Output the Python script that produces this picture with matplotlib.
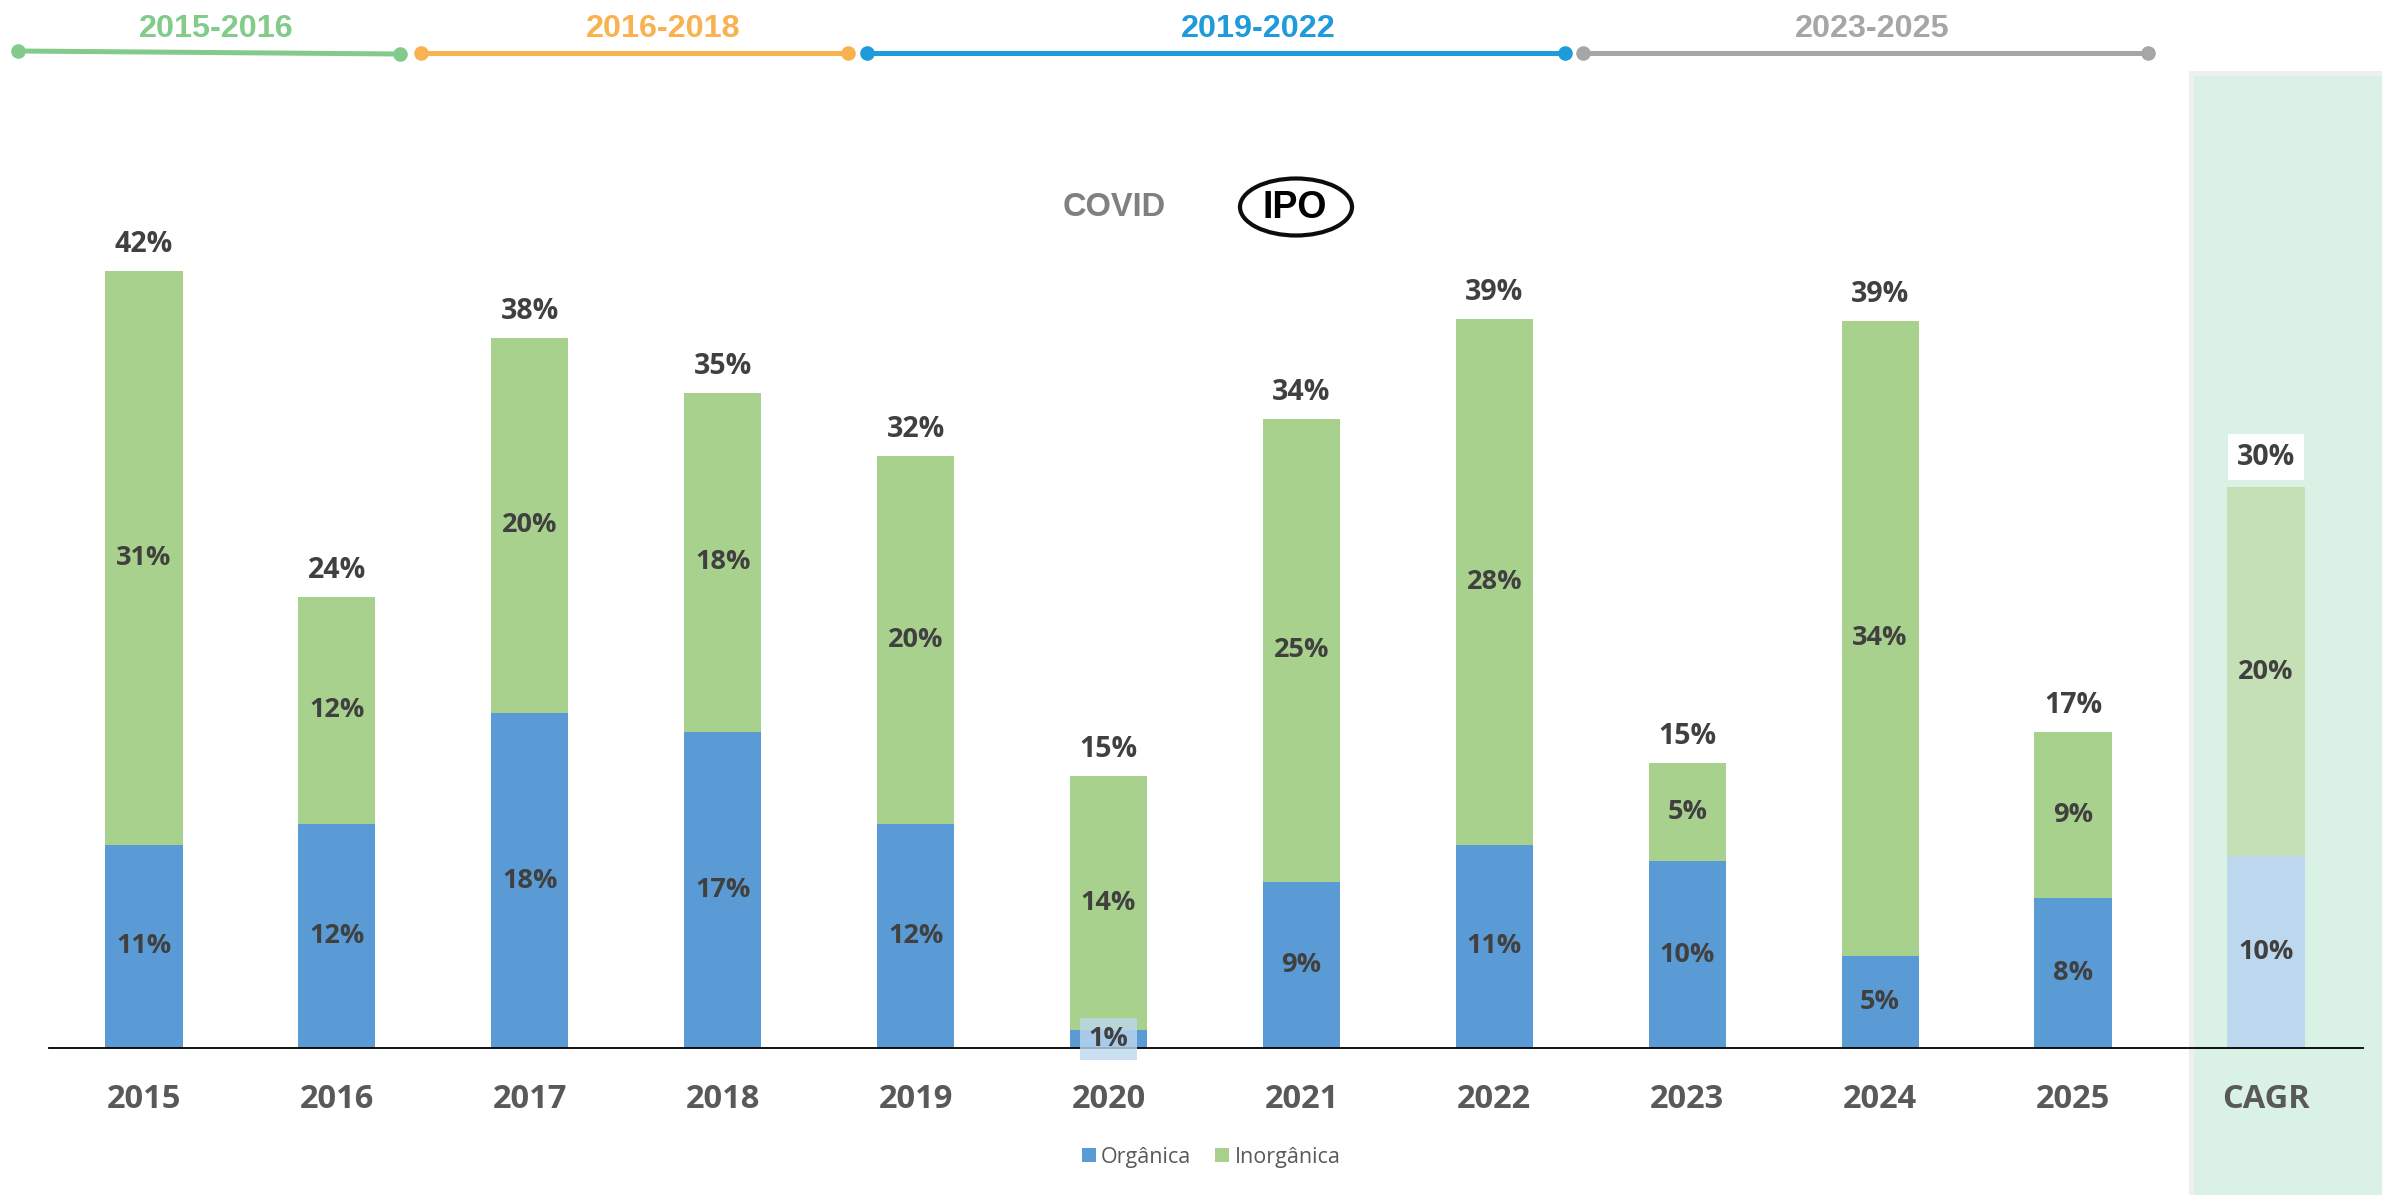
import matplotlib
matplotlib.use("Agg")
import matplotlib.pyplot as plt
from matplotlib.patches import Rectangle, Ellipse
from matplotlib.lines import Line2D

# ---------------- data ----------------
categories = ['2015', '2016', '2017', '2018', '2019', '2020', '2021', '2022',
              '2023', '2024', '2025', 'CAGR']
organic = [11.0, 12.1, 18.1, 17.1, 12.1, 1.0, 9.0, 11.0, 10.1, 5.0, 8.1, 10.4]
inorganic = [31.0, 12.3, 20.3, 18.3, 19.9, 13.7, 25.0, 28.4, 5.3, 34.3, 9.0, 19.9]
series_names = ['Orgânica', 'Inorgânica']
period_labels = ['2015-2016', '2016-2018', '2019-2022', '2023-2025']
event_labels = ['COVID', 'IPO']

# ---------------- style ----------------
W, H = 2382, 1195
BLUE, GREEN = '#5B9BD5', '#A9D18E'
BLUE_L, GREEN_L = '#BDD7EE', '#C5E0B4'
LBL = '#404040'
TICK = '#595959'
FONT = 'Open Sans'

fig = plt.figure(figsize=(W / 100, H / 100), dpi=100)
fig.patch.set_facecolor('white')


def fx(x):
    return x / W


def fy(y):
    return 1 - y / H


# CAGR panel background
panel = Rectangle((fx(2190.5), -0.01), fx(W - 2190.5 + 10), fy(72.5) + 0.01,
                  transform=fig.transFigure, facecolor='#DAF2E6',
                  edgecolor='#EFEFEF', linewidth=3.6, zorder=-5)
fig.patches.append(panel)

ax = fig.add_axes([fx(49), fy(1048), fx(2363 - 49), 925 / H])
ax.set_facecolor('none')
ax.set_xlim(-0.4925, 11.503)
ax.set_ylim(0, 50)

n = len(categories)
x = list(range(n))
org_colors = [BLUE] * (n - 1) + [BLUE_L]
ino_colors = [GREEN] * (n - 1) + [GREEN_L]

b1 = ax.bar(x, organic, width=0.4, color=org_colors, label=series_names[0], zorder=2)
b2 = ax.bar(x, inorganic, width=0.4, bottom=organic, color=ino_colors,
            label=series_names[1], zorder=2)

for s in ['top', 'right', 'left']:
    ax.spines[s].set_visible(False)
ax.spines['bottom'].set_linewidth(1.3)
ax.spines['bottom'].set_color('black')
ax.spines['bottom'].set_zorder(3)
ax.set_yticks([])
ax.set_xticks(x)
ax.set_xticklabels(categories)
ax.tick_params(axis='x', length=0, pad=25)
for t in ax.get_xticklabels():
    t.set_color(TICK)
    t.set_fontweight('bold')
    t.set_fontfamily(FONT)
    t.set_fontsize(23.5)

# value labels
IN_FS = 19.5
TOT_FS = 20.5
for i in x:
    o, g = organic[i], inorganic[i]
    tot = o + g
    is_cagr = categories[i] == 'CAGR'
    # organic label
    if o < 3:
        ax.text(i, o / 2, f"{round(o)}%", ha='center', va='center', fontsize=IN_FS,
                fontweight='bold', family=FONT, color=LBL, zorder=5,
                bbox=dict(boxstyle='square,pad=0.3', fc=BLUE_L, ec='none', alpha=0.8))
    else:
        ax.text(i, o / 2, f"{round(o)}%", ha='center', va='center', fontsize=IN_FS,
                fontweight='bold', family=FONT, color=LBL, zorder=5)
    ax.text(i, o + g / 2, f"{round(g)}%", ha='center', va='center', fontsize=IN_FS,
            fontweight='bold', family=FONT, color=LBL, zorder=5)
    if is_cagr:
        ax.annotate(f"{round(tot)}%", xy=(i, tot), xytext=(0, 30),
                    textcoords='offset pixels', ha='center', va='center',
                    fontsize=TOT_FS, fontweight='bold', family=FONT, color=LBL,
                    bbox=dict(boxstyle='square,pad=0.3', fc='white', ec='none'))
    else:
        ax.annotate(f"{round(tot)}%", xy=(i, tot), xytext=(0, 19),
                    textcoords='offset pixels', ha='center', va='baseline',
                    fontsize=TOT_FS, fontweight='bold', family=FONT, color=LBL)

# legend
leg = fig.legend(handles=[b1, b2], labels=series_names, loc='center',
                 bbox_to_anchor=(fx(1211), fy(1157)), ncol=2, frameon=False,
                 prop={'family': FONT, 'size': 15.5},
                 handlelength=0.65, handleheight=0.65, handletextpad=0.25,
                 columnspacing=1.1)
for t in leg.get_texts():
    t.set_color(TICK)

# timeline
seg_colors = ['#82CB8B', '#F9B250', '#1F9ADB', '#A6A6A6']
seg_x = [(18, 400), (421, 848), (867, 1565), (1583, 2148)]
seg_y = [(51, 54), (53, 53), (53, 53), (53, 53)]
lab_x = [216, 663, 1258, 1872]
for lab, col, (x0, x1), (y0, y1), lx in zip(period_labels, seg_colors, seg_x, seg_y, lab_x):
    fig.add_artist(Line2D([fx(x0), fx(x1)], [fy(y0), fy(y1)], transform=fig.transFigure,
                          color=col, linewidth=3.6, marker='o', markersize=10.5,
                          markeredgewidth=0, solid_capstyle='butt'))
    fig.text(fx(lx), fy(29), lab, ha='center', va='center', color=col,
             fontsize=23.3, fontweight='bold', family='Liberation Sans')

# events
fig.text(fx(1114), fy(208), event_labels[0], ha='center', va='center', color='#808080',
         fontsize=23.5, fontweight='bold', family='Liberation Sans')
fig.text(fx(1295), fy(208), event_labels[1], ha='center', va='center', color='black',
         fontsize=27, fontweight='bold', family='Liberation Sans')
fig.add_artist(Ellipse((fx(1296), fy(207)), fx(112), 57 / H, transform=fig.transFigure,
                       fill=False, edgecolor='#0D0D0D', linewidth=3.0))

fig.savefig('out.png', dpi=100, facecolor='white')
